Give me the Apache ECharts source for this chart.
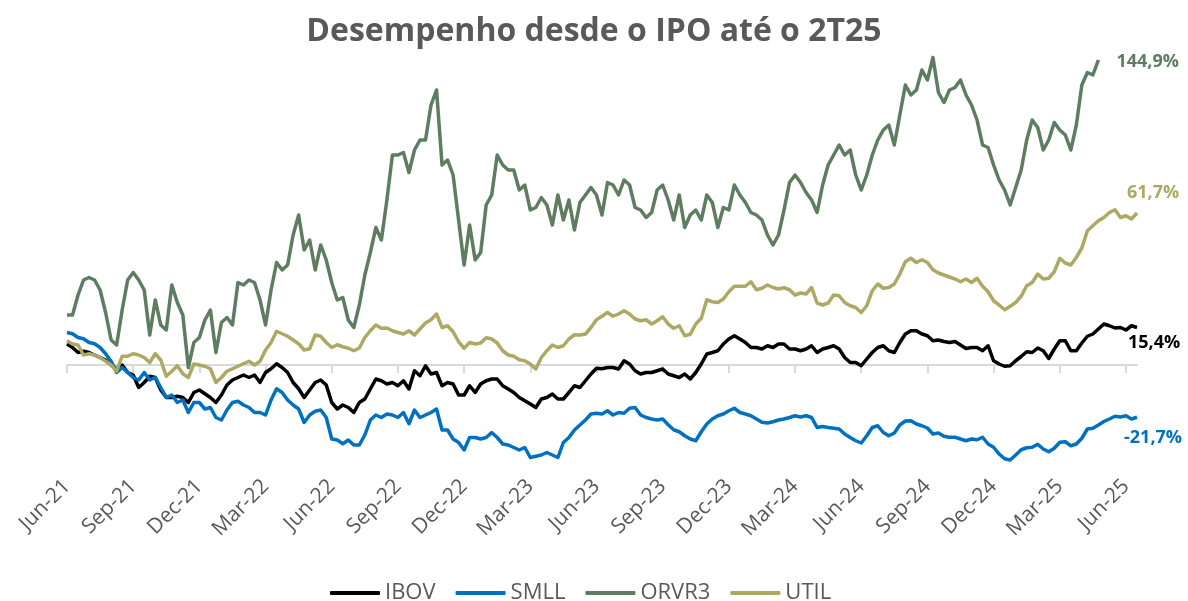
<!DOCTYPE html>
<html>
<head>
<meta charset="utf-8">
<script src="https://cdn.jsdelivr.net/npm/echarts@6/dist/echarts.min.js"></script>
<style>
  html, body { margin: 0; padding: 0; background: #fff; }
  #chart { width: 1188px; height: 601px; }
</style>
</head>
<body>
<div id="chart"></div>
<script>
// um ponto por semana, desde o IPO (jun-21) até jun-25
var tickLabels = ['Jun-21', 'Sep-21', 'Dec-21', 'Mar-22', 'Jun-22', 'Sep-22', 'Dec-22', 'Mar-23',
  'Jun-23', 'Sep-23', 'Dec-23', 'Mar-24', 'Jun-24', 'Sep-24', 'Dec-24', 'Mar-25', 'Jun-25']
var weeksPerTick = 12

var ibov = [
  8.4, 7, 5, 5.5, 5, 4, 3, 2, 0, -1.6, 0, -3, -4, -9, -7, -4.5, -5, -10, -13, -13,
  -12.5, -13, -15, -11, -10, -11.5, -13, -15, -12, -8, -6, -5, -4, -5, -4, -7, -3, -1.5, 0.5, -1,
  -3, -7, -9.5, -13, -10, -7, -6, -8, -15, -17.6, -16, -17, -19, -15, -13.6, -9.6, -5.6, -6.3, -7.6, -7,
  -8.3, -6.3, -9.6, -2.3, -4.3, -0.3, -3.6, -3, -8.3, -7, -7.6, -12, -12, -8.3, -11, -7.6, -6.3, -5.6, -5.6, -8.3,
  -9.6, -11, -13, -14.3, -15.6, -17, -13.6, -13, -11.6, -13.6, -13.6, -11, -8.3, -9, -6.3, -3.6, -1.3, -1.5, -1, -1,
  -1.6, 1.7, 0.4, -2.3, -3.6, -3, -3, -2.3, -1.6, -3.6, -4.3, -5, -3.6, -5.6, -3, 0.4, 4.4, 5, 5.7, 8.4,
  10.4, 11.7, 10.4, 9, 7, 7, 6.4, 7.7, 7, 8.4, 8.4, 6.4, 6.4, 5.7, 6.4, 7.7, 5, 6.4, 7, 7.7,
  6.4, 3, 1, 1, -0.3, 2.4, 5, 7, 7.7, 5.7, 5, 9, 12.4, 13.7, 13.7, 12.4, 11.7, 9.7, 10, 9.4,
  9, 9.4, 8, 6.6, 7, 7, 5.7, 7.7, 1.7, 0.4, -0.5, -0.3, 1.7, 3.4, 5.3, 5, 6.8, 5.7, 2.6, 6.4,
  9.7, 9.7, 5.7, 5.7, 8.8, 11.5, 12.4, 14.4, 16.4, 15.7, 14.8, 15, 14, 15.7, 15
]
var smll = [
  13, 12.5, 11, 10.5, 9, 8.5, 7, 4.5, 1.5, -3, -1, -3, -5, -6, -3, -6, -5, -9, -13, -12,
  -15, -14, -19, -15, -15, -17.6, -17, -21, -22, -18, -15, -14.5, -16, -17, -19, -19, -20, -14, -9.5, -11,
  -14, -16, -17.6, -23, -20, -18.5, -18, -21, -29.6, -30, -31.5, -30, -32, -32, -28, -22, -20, -21, -19.6, -20,
  -21, -19, -23.5, -18, -21, -20, -19, -17.6, -26, -26, -29.6, -31, -34, -29, -29, -29.6, -29, -27, -29, -31.6,
  -32, -33, -34, -33, -37, -36.5, -36, -35, -36, -37, -31, -29, -26, -24, -22, -19.6, -19.3, -19.6, -18.3, -20,
  -19, -19.3, -17.3, -17, -20, -21, -21.6, -22, -21.6, -23.9, -25.9, -26.7, -28.3, -29.6, -30.3, -26.7, -23.6, -21.6, -20.3, -19.6,
  -18.3, -17.3, -19, -19.6, -20.3, -21.6, -22.9, -23.2, -22.7, -22, -21.6, -21, -20.3, -20.8, -20.3, -21, -25, -24.6, -25, -25.3,
  -25.6, -27.6, -29, -30.3, -31.2, -28.3, -25, -24.3, -27, -28.3, -27.2, -24, -22.4, -22.3, -23.6, -24.3, -25.2, -27.6, -27.2, -28.5,
  -28.9, -28.9, -29.6, -30.3, -29.6, -29.9, -28.9, -31.6, -32.9, -35.6, -37.5, -38, -36, -33.9, -33.1, -32.9, -31.7, -33.6, -34.7, -33.3,
  -30.9, -30.7, -32.3, -31.6, -29.3, -25.6, -25.3, -24, -22.6, -21.6, -20.5, -20.8, -20.3, -21.6, -20.9
]
var orvr3 = [
  20, 20, 28, 34, 35, 34, 30, 21, 10, 8, 22, 34, 37, 34, 30, 12, 26, 16, 14, 32,
  25, 20, -1, 9, 11, 18, 22, 5, 17, 19, 16, 33, 32, 34, 33, 26, 16, 30, 41, 38,
  40, 52, 60, 46, 50, 38, 48, 42, 33, 26, 27, 18, 15, 24, 36, 45, 55, 50, 66, 84,
  84, 85, 77, 86, 90, 90, 104, 110, 80, 82, 76, 58, 40, 56, 42, 45, 64, 68, 84, 80,
  78, 78, 70, 72, 62, 63, 67, 64, 56, 68, 58, 66, 54, 65, 68, 71, 68, 60, 73, 72,
  68, 74, 72, 63, 62, 59, 61, 70, 72, 66, 58, 68, 55, 60, 62, 58, 68, 65, 55, 63,
  62, 72, 68, 65, 61, 60, 58, 52, 48, 52, 62, 73, 76, 73, 69, 66, 61, 72, 80, 84,
  88, 84, 86, 76, 70, 76, 84, 90, 94, 96, 88, 100, 112, 108, 110, 118, 114, 123, 109, 105,
  110, 111, 114, 108, 104, 98, 88, 87, 80, 74, 70, 64, 71, 78, 90, 98, 95, 86, 90, 97,
  94, 92, 86, 96, 112, 117, 116, 122
]
var util = [
  9.7, 8.4, 8, 4, 4.5, 4, 3, 1.5, 0, -2.5, 3.5, 3.5, 4.5, 4, 3, 1, 4.5, 2, -4.5, -2.5,
  -0.3, -3.5, -5, 0.4, 0, -0.5, -1.5, -7, -5, -2.5, -1.5, -0.5, 0.5, 1.5, 0, 1.5, 6, 9, 13.5, 12.5,
  11.5, 10, 8.5, 6, 6.5, 12, 11.5, 9, 7, 8.1, 7.3, 6.7, 5.7, 6.8, 11, 13.7, 16, 14.7, 14.8, 13.7,
  13, 12.4, 13.7, 12, 14.4, 16.8, 18.1, 20.4, 15, 15.7, 13.3, 9.3, 6.7, 9, 8.4, 8.8, 10.9, 10.4, 8.8, 5.7,
  4, 3.5, 2.1, 1.7, 0.4, -1.6, 3, 5.7, 8, 7, 7.7, 10.4, 12.1, 12, 12.4, 15, 18.1, 19.5, 21, 19.5,
  20.4, 21.7, 20.4, 18.4, 17.7, 18.1, 16.4, 17.7, 19.3, 16.4, 14.7, 15.7, 11.7, 12.3, 16.4, 18.7, 26.1, 25.3, 25, 26.4,
  29.3, 31.5, 31.5, 31.5, 33.3, 30.1, 30.7, 32, 31, 30.4, 30.9, 30.1, 28, 28.8, 28.4, 31, 24.8, 24, 24.8, 28,
  27.7, 25, 23.7, 23, 21, 23.7, 29.7, 32.4, 30.7, 31, 32.4, 36.4, 41.3, 42.7, 41, 42.1, 41, 38.1, 36.8, 36,
  35.2, 34.4, 33.3, 34.4, 33, 34.7, 31.5, 29.3, 25.7, 24, 22.1, 23.5, 25, 27.5, 31.7, 33, 36.4, 34.4, 34.7, 37.3,
  42.7, 40.8, 40, 43, 46.8, 53.7, 55.7, 57.7, 59, 61, 62.1, 59, 59.7, 58.4, 60.8
]
var endTexts = { IBOV: '15,4%', SMLL: '-21,7%', ORVR3: '144,9%', UTIL: '61,7%' }

var weeks = []
for (var i = 0; i < ibov.length; i++) weeks.push(i)

var textGray = '#595959'
var font = 'Open Sans'

function lineSeries(name, data, color, labelOffset) {
  var last = data.length - 1
  return {
    name: name,
    type: 'line',
    data: data,
    symbol: 'none',
    smooth: false,
    lineStyle: { color: color, width: 3.5, join: 'round' },
    itemStyle: { color: color },
    markPoint: {
      symbol: 'circle',
      symbolSize: 0,
      silent: true,
      data: [{ coord: [last, data[last]] }],
      label: {
        show: true,
        position: 'right',
        distance: 0,
        offset: labelOffset,
        formatter: endTexts[name],
        color: color,
        fontFamily: font,
        fontWeight: 'bold',
        fontSize: 18
      }
    }
  }
}

var chart = echarts.init(document.getElementById('chart'), null, { renderer: 'canvas' })
var option = {
  backgroundColor: '#ffffff',
  animation: false,
  title: {
    text: 'Desempenho desde o IPO até o 2T25',
    left: 'center',
    top: 11,
    textStyle: { color: textGray, fontFamily: font, fontWeight: 'bold', fontSize: 32 }
  },
  legend: {
    left: 325,
    top: 577,
    itemWidth: 50,
    itemHeight: 4,
    itemGap: 20,
    icon: 'roundRect',
    textStyle: { color: textGray, fontFamily: font, fontSize: 22 },
    data: ['IBOV', 'SMLL', 'ORVR3', 'UTIL']
  },
  grid: { left: 67, right: 51, top: 45, bottom: 126, containLabel: false },
  xAxis: [
    {
      // eixo só com os rótulos, embaixo
      type: 'category',
      data: weeks,
      boundaryGap: false,
      position: 'bottom',
      axisLine: { show: false, onZero: false },
      axisTick: { show: false },
      axisLabel: {
        interval: function(idx) { return idx % weeksPerTick === 0 },
        formatter: function(v, idx) { return tickLabels[idx / weeksPerTick] || '' },
        rotate: 45,
        margin: 8,
        color: textGray,
        fontFamily: font,
        fontSize: 21
      },
      splitLine: { show: false }
    },
    {
      // linha do zero com os tracinhos
      type: 'category',
      data: weeks,
      boundaryGap: false,
      position: 'bottom',
      axisLine: { show: true, onZero: true, lineStyle: { color: '#d9d9d9', width: 2 } },
      axisTick: {
        show: true,
        length: 8,
        interval: function(idx) { return idx % weeksPerTick === 0 },
        lineStyle: { color: '#d9d9d9', width: 2 }
      },
      axisLabel: { show: false },
      splitLine: { show: false }
    }
  ],
  yAxis: {
    type: 'value',
    min: -44,
    max: 128,
    show: false,
    splitLine: { show: false }
  },
  series: [
    lineSeries('IBOV', ibov, '#000000', [-9, 15]),
    lineSeries('SMLL', smll, '#0070c0', [-13, 21]),
    lineSeries('ORVR3', orvr3, '#5e7d60', [18, 2]),
    lineSeries('UTIL', util, '#ada964', [-10, -20])
  ]
}
chart.setOption(option)
</script>
</body>
</html>
